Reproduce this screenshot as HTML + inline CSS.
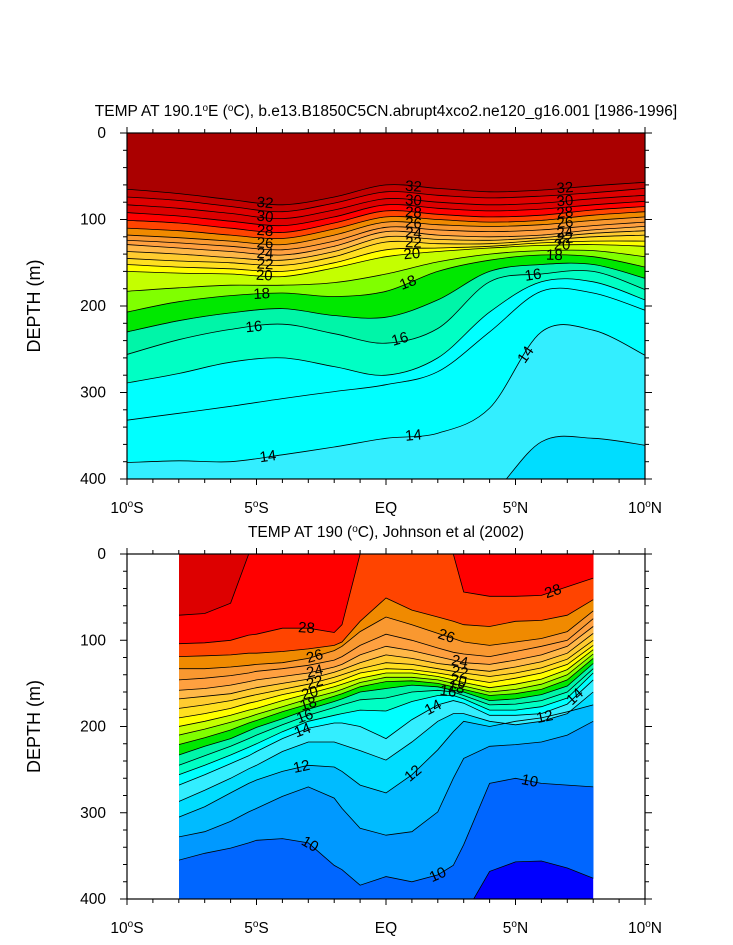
<!DOCTYPE html>
<html><head><meta charset="utf-8"><style>
html,body{margin:0;padding:0;background:#fff}
svg{display:block;font-family:"Liberation Sans",sans-serif}
</style></head><body>
<svg id="fig" width="733" height="945" viewBox="0 0 733 945">
<defs>
<clipPath id="clipTop"><rect x="127" y="133" width="518" height="346"/></clipPath>
<clipPath id="clipBot"><rect x="179" y="554" width="416" height="345"/></clipPath>
</defs>
<g id="topPlot"></g>
<g id="botPlot"></g>
</svg>
<script>
// ---------- shared palette ----------
const paletteTemps  = [8,9,10,11,12,13,14,15,16,17,18,19,20,21,22,23,24,25,26,27,28,29,30,31,32];
const paletteColors = ['#0000ff','#0066ff','#0099ff','#00bbff','#00ddff','#33eeff','#00ffff','#00ffc4','#00f5a8','#00e800','#80ff00','#c4ff00','#ffff00','#ffe020','#ffcc30','#ffb848','#ffa040','#f99830','#f08a00','#ff4400','#ff0000','#dd0000','#dd0000','#c20000','#aa0000'];

// ---------- top panel data (model) ----------
const topLats = [-10,-8,-6,-4,-2,0,2,4,6,8,10];
const topLevels = [13,14,14.5,15,16,17,18,19,20,21,22,23,24,25,26,27,28,29,30,31,32];
const topDepths = [
 [450,450,450,450,450,450,450,420,357,353,361],
 [381,379,380,372,363,353,347,318,230,228,257],
 [332,324,316,307,299,291,276,230,183,185,205],
 [289,278,265,260,270,280,260,207,172,172,193],
 [256,239,227,221,232,243,226,172,163,160,181],
 [230,217,208,203,211,213,193,160,152,152,168],
 [207,195,188,185,189,183,160,147,141,143,155],
 [183,179,176,176,173,163,149,140,136,136,143],
 [160,162,163,166,156,143,137,133,130,129,131],
 [152,155,157,160,150,135,133,131,127,125,125],
 [145,148,150,153,143,126,128,128,124,120,118],
 [137,140,144,147,137,120,123,124,121,116,113],
 [129,133,137,141,131,114,118,120,118,112,108],
 [124,127,131,135,125,109,112,114,112,107,103],
 [118,121,125,129,118,103,106,108,106,101,97],
 [110,113,118,122,111,97,100,103,101,95,91],
 [101,104,110,115,104,90,94,97,95,89,85],
 [92,96,102,107,97,83,87,90,88,83,79],
 [83,87,93,99,89,76,80,83,81,76,72],
 [74,78,85,91,81,68,72,75,73,69,64],
 [65,70,77,83,74,60,64,68,66,61,57]
];
const topBaseTemp = 12;
const topLabelText = ['32','30','28','26','24','22','20','18','16','32','30','28','26','24','22','20','18','16','32','30','28','26','24','22','20','18','16','14','14','14'];
const topLabelLevel = [32,30,28,26,24,22,20,18,16,32,30,28,26,24,22,20,18,16,32,30,28,26,24,22,20,18,16,14,14,14];
const topLabelLat = [-4.67,-4.67,-4.67,-4.67,-4.67,-4.67,-4.7,-4.8,-5.1,1.06,1.06,1.06,1.06,1.06,1.06,1.0,0.85,0.54,6.91,6.91,6.91,6.91,6.91,6.91,6.8,6.5,5.68,-4.56,1.06,5.4];

// ---------- bottom panel data (observations) ----------
const botLats = [-8,-7,-6,-5.3,-5,-4,-3,-2,-1.7,-1,0,1,2,2.6,3,4,5,6,7,8];
const botLevels = [9,10,11,12,13,14,15,16,17,18,19,20,21,22,23,24,25,26,27,28,29];
const botDepths = [
 [430,430,430,430,430,430,430,430,430,430,430,430,430,430,420,368,357,356,364,376],
 [355,347,341,335,332,330,335,361,366,384,374,380,372,361,337,266,260,266,268,270],
 [328,322,310,299,295,281,270,283,295,318,326,322,299,260,237,223,221,218,210,194],
 [305,293,277,266,262,252,245,247,252,268,277,256,227,206,194,200,194,190,183,175],
 [287,274,260,249,245,229,218,218,221,228,239,218,194,185,185,194,198,194,185,160],
 [268,256,243,234,229,214,202,196,196,200,214,192,175,170,173,187,187,185,174,146],
 [256,245,233,224,220,206,194,187,185,181,182,171,164,164,168,181,181,177,167,138],
 [245,234,223,214,210,198,187,178,175,169,167,160,158,160,164,175,174,170,160,133],
 [233,223,214,205,201,191,180,171,168,160,156,152,154,158,160,170,168,163,153,127],
 [221,213,204,196,193,183,174,165,162,154,148,147,150,154,157,164,162,157,146,121],
 [210,203,195,189,186,177,168,160,157,149,143,143,146,150,153,160,157,151,140,116],
 [200,194,187,181,179,170,162,154,151,144,138,138,142,146,149,155,151,145,134,111],
 [190,185,179,173,171,163,157,149,146,138,133,134,138,141,144,149,144,138,128,106],
 [179,175,170,165,163,157,151,143,140,133,126,128,133,136,138,142,138,132,122,100],
 [168,165,162,157,155,150,145,137,134,126,117,121,127,129,133,136,131,125,115,92],
 [158,156,152,148,146,142,138,131,128,117,107,112,119,123,126,128,123,117,107,84],
 [146,144,141,138,136,133,129,123,119,106,93,100,109,114,116,119,113,107,100,75],
 [133,133,131,129,128,126,121,112,107,90,73,82,92,98,102,106,102,98,90,66],
 [119,118,117,115,115,113,110,106,102,78,51,65,73,78,82,84,78,77,71,53],
 [104,103,100,94,93,86,86,91,82,0,0,0,0,0,44,49,49,48,38,28],
 [71,69,57,0,0,0,0,0,0,0,0,0,0,0,0,0,0,0,0,0]
];
const botBaseTemp = 8;
const botLabelText = ['28','28','26','26','24','24','22','22','20','20','18','18','16','16','14','14','14','12','12','12','10','10','10'];
const botLabelLevel = [28,28,26,26,24,24,22,22,20,20,18,18,16,16,14,14,14,12,12,12,10,10,10];
const botLabelLat = [-3.07,6.45,-2.75,2.33,-2.75,2.85,-2.75,2.85,-2.94,2.79,-3.0,2.72,-3.13,2.4,-3.22,1.82,7.3,-3.26,1.05,6.13,-2.94,2.0,5.55];

// ---------- axis tick data ----------
const xTickLats = [-10,-5,0,5,10];
const xTickNums = ['10','5','EQ','5','10'];
const xTickHem = ['S','S','','N','N'];
const yTickDepths = [0,100,200,300,400];

const NS='http://www.w3.org/2000/svg';
function mk(tag, attrs, parent){const e=document.createElementNS(NS,tag);for(const k in attrs)e.setAttribute(k,attrs[k]);parent.appendChild(e);return e;}
function colorFor(t){let c=paletteColors[0];for(let i=0;i<paletteTemps.length;i++){if(t>=paletteTemps[i]-1e-9)c=paletteColors[i];}return c;}

function makePanel(cfg){
 const g=document.getElementById(cfg.gid);
 const X=lat=>cfg.x0+(lat-cfg.latMin)/(cfg.latMax-cfg.latMin)*cfg.w;
 const Y=d=>cfg.y0+d/400*cfg.h;
 const fills=mk('g',{'clip-path':'url(#'+cfg.clip+')'},g);
 
 
 const dx0=X(cfg.lats[0]),dx1=X(cfg.lats[cfg.lats.length-1]);
 const base=mk('rect',{x:dx0,y:cfg.y0,width:dx1-dx0,height:cfg.h,fill:colorFor(cfg.baseTemp)},fills);
 
 
 function pathFor(arr){
  const pts=cfg.lats.map((l,i)=>[X(l),Y(arr[i])]);
  if(!cfg.smooth) return 'M'+pts.map(p=>p[0].toFixed(1)+','+p[1].toFixed(1)).join(' L');
  let d='M'+pts[0][0]+','+pts[0][1];
  for(let i=0;i<pts.length-1;i++){
   const p0=pts[Math.max(0,i-1)],p1=pts[i],p2=pts[i+1],p3=pts[Math.min(pts.length-1,i+2)];
   const c1=[p1[0]+(p2[0]-p0[0])/6,p1[1]+(p2[1]-p0[1])/6];
   const c2=[p2[0]-(p3[0]-p1[0])/6,p2[1]-(p3[1]-p1[1])/6];
   d+=' C'+c1[0].toFixed(1)+','+c1[1].toFixed(1)+' '+c2[0].toFixed(1)+','+c2[1].toFixed(1)+' '+p2[0].toFixed(1)+','+p2[1].toFixed(1);
  }
  return d;
 }
 const lines=mk('g',{'clip-path':'url(#'+cfg.clip+')'},g);
 
 
 cfg.levels.forEach((lev,k)=>{
  const lp=pathFor(cfg.depths[k]);
  const band=mk('path',{d:lp+' L'+dx1+','+(cfg.y0-2)+' L'+dx0+','+(cfg.y0-2)+' Z',fill:colorFor(lev),stroke:colorFor(lev),'stroke-width':0.6},fills);
  
  
  const ln=mk('path',{d:lp,fill:'none',stroke:'#000','stroke-width':0.8},lines);
  
  
 });
 const labs=mk('g',{},g);
 
 
 function depthAt(k,lat){const L=cfg.lats,a=cfg.depths[k];for(let i=0;i<L.length-1;i++){if(lat>=L[i]&&lat<=L[i+1]){const f=(lat-L[i])/(L[i+1]-L[i]);return a[i]+f*(a[i+1]-a[i]);}}return a[a.length-1];}
 cfg.labText.forEach((t,j)=>{
  const k=cfg.levels.indexOf(cfg.labLevel[j]);const lat=cfg.labLat[j];
  const px=X(lat),py=Y(depthAt(k,lat));
  const ang=Math.atan2(Y(depthAt(k,lat+0.3))-Y(depthAt(k,lat-0.3)),X(lat+0.3)-X(lat-0.3))*180/Math.PI;
  const tx=mk('text',{x:px,y:py,'font-size':15,'text-anchor':'middle','dominant-baseline':'central',transform:'rotate('+ang.toFixed(1)+' '+px.toFixed(1)+' '+py.toFixed(1)+')'},labs);
  
  
  tx.textContent=t;
 });
 const fr=mk('rect',{x:cfg.x0,y:cfg.y0,width:cfg.w,height:cfg.h,fill:'none',stroke:'#000','stroke-width':1.2},g);
 
 
 const ax=mk('g',{stroke:'#000','stroke-width':1},g);
 
 
 for(let l=-10;l<=10;l++){const x=X(l),len=(l%5===0)?6:4;
  mk('line',{x1:x,x2:x,y1:cfg.y0,y2:cfg.y0-len},ax);mk('line',{x1:x,x2:x,y1:cfg.y0+cfg.h,y2:cfg.y0+cfg.h+len},ax);}
 for(let d=0;d<=400;d+=20){const y=Y(d),len=(d%100===0)?7:4;
  mk('line',{x1:cfg.x0,x2:cfg.x0-len,y1:y,y2:y},ax);mk('line',{x1:cfg.x0+cfg.w,x2:cfg.x0+cfg.w+len,y1:y,y2:y},ax);}
 xTickLats.forEach((l,i)=>{
  const t=mk('text',{x:X(l),y:cfg.y0+cfg.h+34,'font-size':15.5,'text-anchor':'middle'},g);
  
  
  if(xTickHem[i]){t.innerHTML=xTickNums[i]+'<tspan dy="-6" font-size="10">o</tspan><tspan dy="6">'+xTickHem[i]+'</tspan>';}else t.textContent=xTickNums[i];
 });
 yTickDepths.forEach(d=>{
  const t=mk('text',{x:cfg.x0-21,y:Y(d)+5,'font-size':15.5,'text-anchor':'end'},g);
  
  
  t.textContent=String(d);
 });
 const yt=mk('text',{x:40,y:cfg.y0+cfg.h/2,'font-size':18,'text-anchor':'middle',transform:'rotate(-90 40 '+(cfg.y0+cfg.h/2)+')'},g);
 
 
 yt.textContent='DEPTH (m)';
 const tt=mk('text',{x:cfg.x0+cfg.w/2,y:cfg.y0-17,'font-size':15.5,'text-anchor':'middle'},g);
 
 
 tt.innerHTML=cfg.title;
}

makePanel({gid:'topPlot',clip:'clipTop',x0:127,y0:133,w:518,h:346,latMin:-10,latMax:10,lats:topLats,levels:topLevels,depths:topDepths,baseTemp:topBaseTemp,smooth:true,labText:topLabelText,labLevel:topLabelLevel,labLat:topLabelLat,
 title:'TEMP AT 190.1<tspan dy="-5" font-size="10">o</tspan><tspan dy="5">E (</tspan><tspan dy="-5" font-size="10">o</tspan><tspan dy="5">C), b.e13.B1850C5CN.abrupt4xco2.ne120_g16.001 [1986-1996]</tspan>'});
makePanel({gid:'botPlot',clip:'clipBot',x0:127,y0:554,w:518,h:345,latMin:-10,latMax:10,lats:botLats,levels:botLevels,depths:botDepths,baseTemp:botBaseTemp,smooth:false,labText:botLabelText,labLevel:botLabelLevel,labLat:botLabelLat,
 title:'TEMP AT 190 (<tspan dy="-5" font-size="10">o</tspan><tspan dy="5">C), Johnson et al (2002)</tspan>'});
</script>
</body></html>
